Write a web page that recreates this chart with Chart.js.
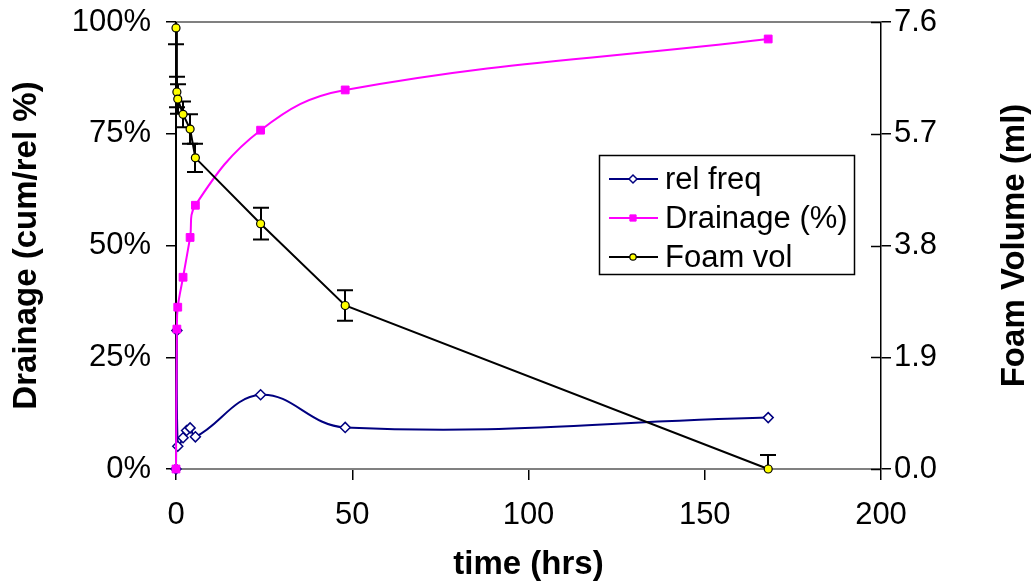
<!DOCTYPE html>
<html><head><meta charset="utf-8">
<script src="https://cdn.jsdelivr.net/npm/chart.js@4/dist/chart.umd.min.js"></script>
<style>html,body{margin:0;padding:0;background:#fff;overflow:hidden}#wrap{width:1033px;height:585px;position:relative}canvas{display:block}</style>
</head><body><div id="wrap"><canvas id="c" width="1033" height="585" style="width:1033px;height:585px"></canvas></div>
<script>
// ---- data ----
const relTimes   = [0, 0.25, 0.5, 2, 3, 4, 5.5, 24, 48, 168];
const relFreq    = [0, 31.0, 5.1, 7.0, 8.6, 9.2, 7.2, 16.6, 9.3, 11.5];
const drainTimes = [0, 0.25, 0.5, 2, 4, 5.5, 24, 48, 168];
const drainage   = [0, 31.3, 36.2, 42.9, 51.8, 59.0, 75.8, 84.8, 96.2];
const foamTimes  = [0, 0.25, 0.5, 2, 4, 5.5, 24, 48, 168];
const foamVol    = [7.50, 6.41, 6.29, 6.03, 5.78, 5.29, 4.17, 2.78, 0.0];
const foamErr    = [0.28, 0.26, 0.25, 0.22, 0.25, 0.24, 0.27, 0.26, 0.24];
const xTicks     = [0, 50, 100, 150, 200];
const leftTicks  = [0, 25, 50, 75, 100];
const rightTicks = [0, 1.9, 3.8, 5.7, 7.6];
const seriesNames = ['rel freq', 'Drainage (%)', 'Foam vol'];
const axisTitles = {x: 'time (hrs)', y: 'Drainage (cum/rel %)', y1: 'Foam Volume (ml)'};

const FONT = 'Liberation Sans, Arial, sans-serif';
const TICK_SIZE = 31, TITLE_SIZE = 33, LEG_SIZE = 31;

const pts = (xs, ys) => xs.map((x, i) => ({x: x, y: ys[i]}));
const noPad = s => { s.paddingTop = 0; s.paddingBottom = 0; s.paddingLeft = 0; s.paddingRight = 0; };

const deco = {
  id: 'deco',
  beforeDatasetDraw(chart, args) {
    if (args.index !== 2) return;
    const ctx = chart.ctx, xs = chart.scales.x, ys = chart.scales.y1, a = chart.chartArea;
    ctx.save();
    ctx.beginPath(); ctx.rect(a.left - 30, a.top, a.right - a.left + 60, a.bottom - a.top); ctx.clip();
    ctx.strokeStyle = '#000'; ctx.lineWidth = 2;
    foamTimes.forEach((t, i) => {
      const x = Math.round(xs.getPixelForValue(t));
      const yl = ys.getPixelForValue(foamVol[i] - foamErr[i]);
      const yh = ys.getPixelForValue(foamVol[i] + foamErr[i]);
      ctx.beginPath();
      ctx.moveTo(x, yl); ctx.lineTo(x, yh);
      ctx.moveTo(x - 8, yl); ctx.lineTo(x + 8, yl);
      ctx.moveTo(x - 8, yh); ctx.lineTo(x + 8, yh);
      ctx.stroke();
    });
    ctx.restore();
  },
  beforeDatasetsDraw(chart) {
    const ctx = chart.ctx, a = chart.chartArea, ys = chart.scales.y1;
    ctx.save();
    ctx.strokeStyle = '#808080'; ctx.lineWidth = 2;
    ctx.beginPath(); ctx.moveTo(a.left, a.top); ctx.lineTo(a.right, a.top); ctx.stroke();
    ctx.strokeStyle = '#000'; ctx.lineWidth = 1.5;
    rightTicks.forEach(v => {
      const y = Math.round(ys.getPixelForValue(v)) + 0.5;
      ctx.beginPath(); ctx.moveTo(a.right - 10, y); ctx.lineTo(a.right, y); ctx.stroke();
    });
    ctx.restore();
  },
  afterDraw(chart) {
    const ctx = chart.ctx, a = chart.chartArea;
    ctx.save();
    ctx.fillStyle = '#000';
    ctx.font = 'bold ' + TITLE_SIZE + 'px ' + FONT;
    ctx.textAlign = 'center'; ctx.textBaseline = 'middle';
    ctx.translate(1015, (a.top + a.bottom) / 2);
    ctx.rotate(-Math.PI / 2);
    ctx.fillText(axisTitles.y1, 0, 0);
    ctx.restore();
    // legend
    ctx.save();
    const bx = 599, by = 155, bw = 255, bh = 119;
    ctx.fillStyle = '#fff'; ctx.fillRect(bx, by, bw, bh);
    ctx.strokeStyle = '#000'; ctx.lineWidth = 1.5;
    ctx.strokeRect(bx + 0.5, by + 0.5, bw, bh);
    const rows = [179, 218, 257];
    ctx.font = LEG_SIZE + 'px ' + FONT;
    ctx.textAlign = 'left'; ctx.textBaseline = 'middle';
    chart.data.datasets.forEach((ds, i) => {
      const y = rows[i];
      ctx.strokeStyle = ds.borderColor; ctx.lineWidth = 2;
      ctx.beginPath(); ctx.moveTo(609, y); ctx.lineTo(658, y); ctx.stroke();
      ctx.fillStyle = ds.pointBackgroundColor; ctx.strokeStyle = ds.pointBorderColor; ctx.lineWidth = ds.pointBorderWidth;
      Chart.helpers.drawPoint(ctx, {pointStyle: ds.pointStyle, radius: ds.pointRadius * 0.8, rotation: 0, borderWidth: ds.pointBorderWidth}, 633, y);
      ctx.fillStyle = '#000';
      ctx.fillText(ds.label, 665, y + 1);
    });
    ctx.restore();
  }
};

new Chart(document.getElementById('c'), {
  type: 'line',
  data: {
    datasets: [
      {label: seriesNames[0], data: pts(relTimes, relFreq), yAxisID: 'y', order: 3,
       borderColor: '#000080', borderWidth: 2, tension: 0.4,
       pointStyle: 'rectRot', pointRadius: 5, pointBackgroundColor: '#ffffff',
       pointBorderColor: '#000080', pointBorderWidth: 1.5, clip: false},
      {label: seriesNames[1], data: pts(drainTimes, drainage), yAxisID: 'y', order: 2,
       borderColor: '#ff00ff', borderWidth: 2, tension: 0.4,
       pointStyle: 'rect', pointRadius: 5.5, pointBackgroundColor: '#ff00ff',
       pointBorderColor: '#ff00ff', pointBorderWidth: 1, clip: false},
      {label: seriesNames[2], data: pts(foamTimes, foamVol), yAxisID: 'y1', order: 1,
       borderColor: '#000000', borderWidth: 2, tension: 0,
       pointStyle: 'circle', pointRadius: 4, pointBackgroundColor: '#ffff00',
       pointBorderColor: '#000000', pointBorderWidth: 1.2, clip: false}
    ]
  },
  options: {
    responsive: false, animation: false, devicePixelRatio: 1,
    layout: {padding: {top: 22, left: 0, right: 0, bottom: 0}},
    plugins: {legend: {display: false}, tooltip: {enabled: false}},
    scales: {
      x: {type: 'linear', min: 0, max: 200,
        afterBuildTicks: s => { s.ticks = xTicks.map(v => ({value: v})); },
        afterFit: s => { s.height = 116; noPad(s); },
        grid: {drawOnChartArea: false, color: '#000', tickLength: 11, lineWidth: 1.5},
        border: {color: '#808080', width: 2},
        ticks: {color: '#000', font: {family: FONT, size: TICK_SIZE}, padding: 17, maxRotation: 0},
        title: {display: true, text: axisTitles.x, color: '#000', font: {family: FONT, size: TITLE_SIZE, weight: 'bold'}, padding: {top: 0, bottom: 0}}
      },
      y: {type: 'linear', position: 'left', min: 0, max: 100,
        afterBuildTicks: s => { s.ticks = leftTicks.map(v => ({value: v})); },
        afterFit: s => { s.width = 176; noPad(s); },
        grid: {drawOnChartArea: false, color: '#000', tickLength: 10, lineWidth: 1.5},
        border: {color: '#000', width: 2},
        ticks: {color: '#000', font: {family: FONT, size: TICK_SIZE}, padding: 15, callback: v => v + '%'},
        title: {display: true, text: axisTitles.y, color: '#000', font: {family: FONT, size: TITLE_SIZE, weight: 'bold'}, padding: {top: 7, bottom: 0}}
      },
      y1: {type: 'linear', position: 'right', min: 0, max: 7.6,
        afterBuildTicks: s => { s.ticks = rightTicks.map(v => ({value: v})); },
        afterFit: s => { s.width = 152; noPad(s); },
        grid: {drawOnChartArea: false, color: '#000', tickLength: 10, lineWidth: 1.5},
        border: {color: '#000', width: 1.5},
        ticks: {color: '#000', font: {family: FONT, size: TICK_SIZE}, padding: 3, callback: v => v.toFixed(1)}
      }
    }
  },
  plugins: [deco]
});
</script></body></html>
